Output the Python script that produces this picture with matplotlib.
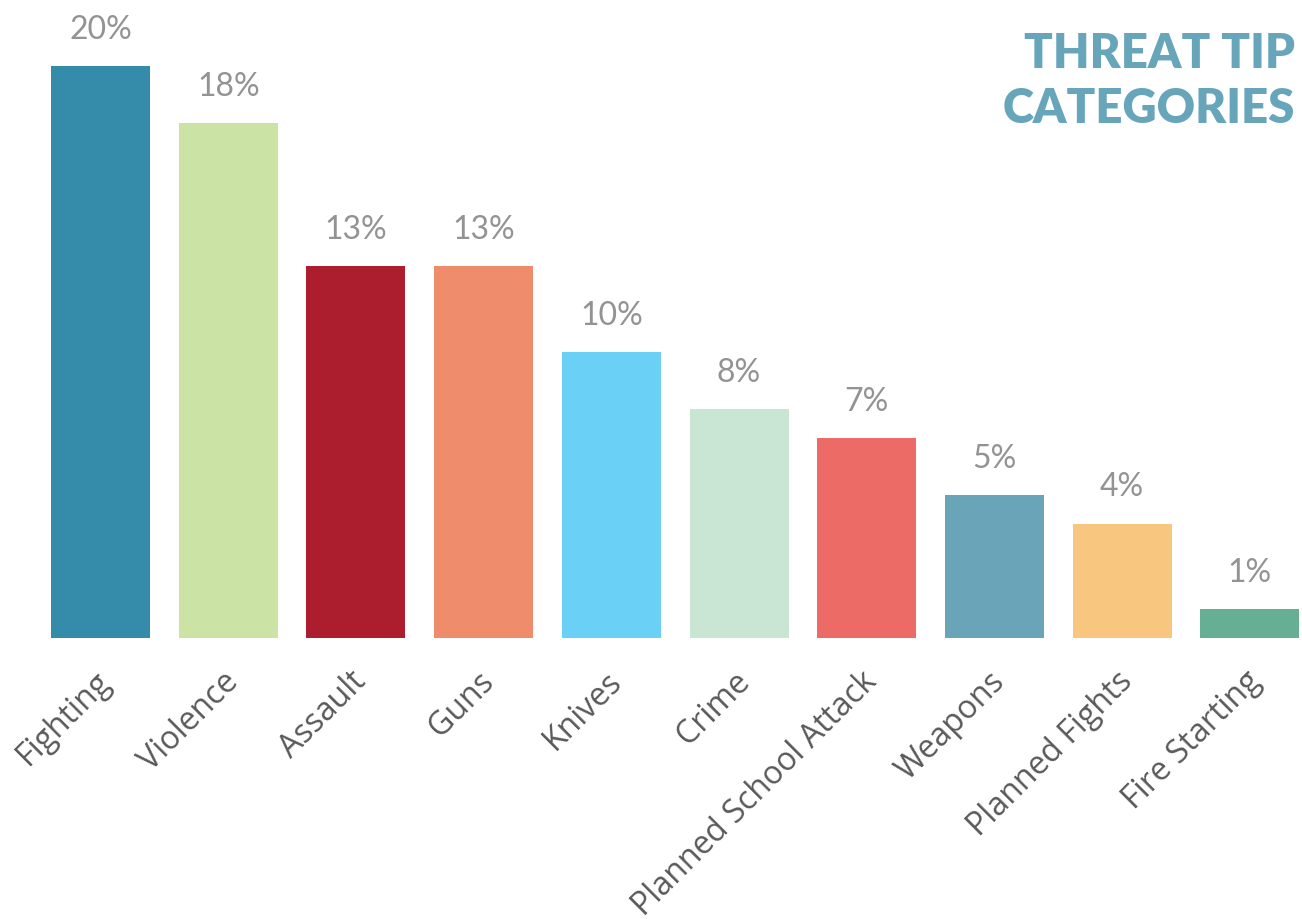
import matplotlib.pyplot as plt
from matplotlib import font_manager
import matplotlib.transforms as mtransforms

# ======================
# Data
# ======================
categories = ['Fighting', 'Violence', 'Assault', 'Guns', 'Knives', 'Crime',
              'Planned School Attack', 'Weapons', 'Planned Fights', 'Fire Starting']
shares = [20, 18, 13, 13, 10, 8, 7, 5, 4, 1]
bar_colors = ['#348BAA', '#CCE3A6', '#AC1E2D', '#EF8C6B', '#6BD0F5',
              '#C9E5D4', '#EC6B66', '#69A4B8', '#F9C680', '#67AF92']

label_font = font_manager.FontProperties(family=['Open Sans', 'DejaVu Sans'], size=23)

# ======================
# Plot
# ======================
fig = plt.figure(figsize=(13.02, 9.2), dpi=100)
ax = fig.add_axes([0, 0.3076 - 0.002, 1, 0.6924 + 0.002])

x = list(range(len(categories)))
ax.bar(x, shares, width=0.775, color=bar_colors)

for xi, v in zip(x, shares):
    ax.text(xi, v + 1.3, f'{v}%', ha='center', va='center',
            fontsize=23, color='#939393', family='Lato')

ax.set_xlim(-0.787, 9.408)
ax.set_ylim(0, 22.35)
ax.set_xticks(x)
ax.set_xticklabels(categories, rotation=45, ha='right', rotation_mode='anchor',
                   fontproperties=label_font, color='#595959')
ax.tick_params(axis='x', length=0, pad=19)
shift = mtransforms.ScaledTranslation(-6 / 100, 0, fig.dpi_scale_trans)
for lbl in ax.get_xticklabels():
    lbl.set_transform(lbl.get_transform() + shift)
ax.set_yticks([])
for s in ax.spines.values():
    s.set_visible(False)

fig.text(0.9945, 0.965, 'THREAT TIP\nCATEGORIES', ha='right', va='top',
         fontsize=34, fontweight='heavy', color='#66A5BA', family='Lato',
         linespacing=1.3)

fig.savefig('out.png', dpi=100)
